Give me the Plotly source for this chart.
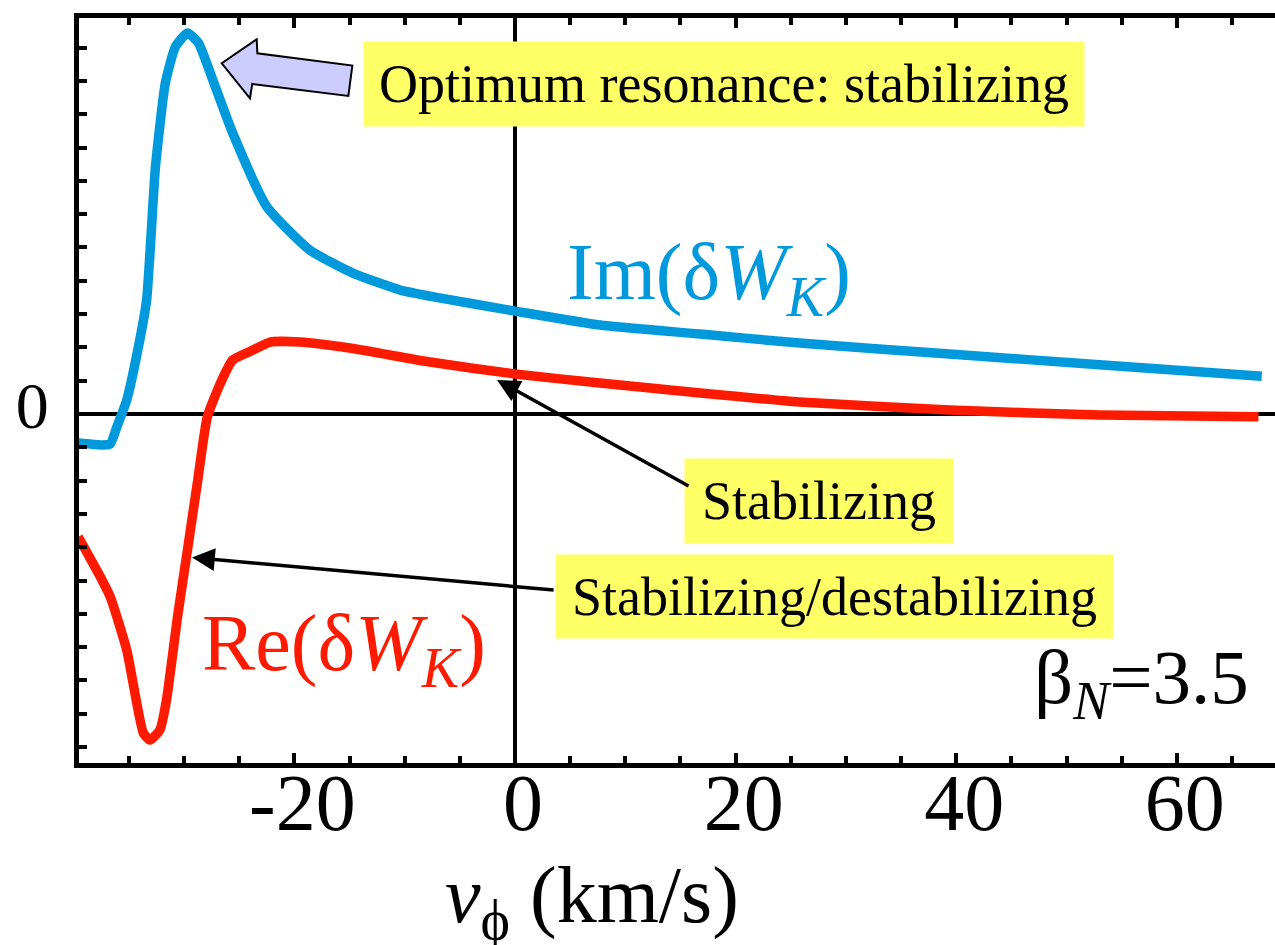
import plotly.graph_objects as go

# ---- data ----
im_x = [-39.6, -37.35, -36.7, -36.1, -35.2, -34.2, -33.4, -32.6, -31.7, -30.8, -29.7, -28.7,
        -27.4, -25.6, -22.5, -18.6, -14.7, -10.4, -7.25, 0.0, 7.7, 16.8, 25.8, 39.4, 53.0, 67.7]
im_y = [-0.87, -0.93, -0.90, -0.39, 0.42, 1.92, 3.42, 7.42, 9.94, 11.02, 11.44, 11.14,
        10.03, 8.44, 6.22, 4.92, 4.23, 3.72, 3.51, 3.09, 2.67, 2.40, 2.13, 1.80, 1.48, 1.13]

re_x = [-39.6, -37.6, -36.7, -35.2, -33.7, -33.1, -32.2, -31.6, -30.6, -29.7, -28.8, -27.9,
        -26.7, -25.6, -23.75, -22.2, -19.5, -15.0, -7.7, 0.0, 7.7, 16.8, 25.8, 39.4, 53.0, 67.4]
re_y = [-3.69, -4.89, -5.49, -7.09, -9.58, -9.79, -9.49, -8.59, -6.10, -4.09, -2.07, -0.09,
        0.93, 1.62, 1.92, 2.16, 2.16, 1.98, 1.56, 1.20, 0.93, 0.63, 0.36, 0.12, -0.03, -0.08]

x_tick_vals = [-20, 0, 20, 40, 60]
x_tick_text = ["-20", "0", "20", "40", "60"]
y_tick_vals = list(range(-10, 12))
y_tick_text = ["0" if v == 0 else "" for v in y_tick_vals]

BLUE = "rgb(0,153,219)"
RED = "rgb(255,26,0)"
SERIF = "Liberation Serif, Times New Roman, serif"

fig = go.Figure()
fig.add_trace(go.Scatter(x=im_x, y=im_y, mode="lines",
                         line=dict(color=BLUE, width=9.5, shape="spline", smoothing=0.5),
                         hoverinfo="skip"))
fig.add_trace(go.Scatter(x=re_x, y=re_y, mode="lines",
                         line=dict(color=RED, width=9.5, shape="spline", smoothing=0.5),
                         hoverinfo="skip"))

fig.update_layout(
    width=1275, height=945,
    margin=dict(l=79, r=0, t=18, b=182),
    paper_bgcolor="white", plot_bgcolor="white",
    showlegend=False,
    font=dict(family=SERIF, color="black"),
)

fig.update_xaxes(
    range=[-39.53, 68.90],
    automargin=False,
    showgrid=False,
    zeroline=True, zerolinecolor="black", zerolinewidth=4,
    showline=True, linecolor="black", linewidth=5, mirror="ticks",
    ticks="inside", ticklen=10, tickwidth=4, tickcolor="black",
    tickvals=x_tick_vals, ticktext=x_tick_text,
    tickfont=dict(family=SERIF, size=80, color="black"),
    ticklabelshift=8,
    ticklabelstandoff=-34,
    minor=dict(dtick=5, tick0=0, ticks="inside", ticklen=7, tickwidth=4, tickcolor="black", showgrid=False),
)
fig.update_yaxes(
    range=[-10.48, 11.89],
    automargin=False,
    showgrid=False,
    zeroline=True, zerolinecolor="black", zerolinewidth=4,
    showline=True, linecolor="black", linewidth=5, mirror=False,
    ticks="inside", ticklen=8, tickwidth=4, tickcolor="black",
    tickvals=y_tick_vals, ticktext=y_tick_text,
    tickfont=dict(family=SERIF, size=66, color="black"),
    ticklabelstandoff=12,
    ticklabelshift=-9,
)

# axis title
fig.add_annotation(text="<i>v</i><sub>ϕ</sub> (km/s)", xref="paper", yref="paper",
                   x=0.4287, y=-0.185, xanchor="center", yanchor="middle", showarrow=False,
                   font=dict(family=SERIF, size=80, color="black"))

# curve labels
fig.add_annotation(text="Im(δ<i>W</i><sub><i>K</i></sub>)", x=4.5, y=4.07, xref="x", yref="y",
                   xanchor="left", yanchor="middle", showarrow=False,
                   font=dict(family=SERIF, size=80, color=BLUE))
fig.add_annotation(text="Re(δ<i>W</i><sub><i>K</i></sub>)", x=-28.6, y=-7.06, xref="x", yref="y",
                   xanchor="left", yanchor="middle", showarrow=False,
                   font=dict(family=SERIF, size=80, color=RED))
fig.add_annotation(text="β<sub><i>N</i></sub>=3.5", x=46.9, y=-8.06, xref="x", yref="y",
                   xanchor="left", yanchor="middle", showarrow=False,
                   font=dict(family=SERIF, size=77, color="black"))

# yellow boxes
YEL = "#ffff66"
fig.add_annotation(text="Optimum resonance: stabilizing", x=18.95, y=9.91, xref="x", yref="y",
                   showarrow=False, bgcolor=YEL, width=720, height=84, borderpad=0,
                   font=dict(family=SERIF, size=54, color="black"))
fig.add_annotation(text="Stabilizing", x=27.56, y=-2.61, xref="x", yref="y",
                   showarrow=False, bgcolor=YEL, width=268, height=84, borderpad=0,
                   font=dict(family=SERIF, size=54, color="black"))
fig.add_annotation(text="Stabilizing/destabilizing", x=28.97, y=-5.48, xref="x", yref="y",
                   showarrow=False, bgcolor=YEL, width=557, height=83, borderpad=0,
                   font=dict(family=SERIF, size=54, color="black"))

# thin black arrows
fig.add_annotation(text="", x=-1.63, y=1.02, ax=15.87, ay=-2.19, xref="x", yref="y",
                   axref="x", ayref="y", showarrow=True, arrowhead=2, arrowsize=1.3,
                   arrowwidth=3.5, arrowcolor="black")
fig.add_annotation(text="", x=-29.28, y=-4.31, ax=3.63, ay=-5.29, xref="x", yref="y",
                   axref="x", ayref="y", showarrow=True, arrowhead=2, arrowsize=1.3,
                   arrowwidth=3.5, arrowcolor="black")

# big lavender block arrow
fig.add_shape(type="path", xref="x", yref="y",
              path="M -26.59 10.53 L -23.42 11.25 L -23.36 10.83 L -14.75 10.46 "
                   "L -15.11 9.55 L -23.82 9.91 L -24.03 9.48 Z",
              fillcolor="#ccccff", line=dict(color="black", width=2))

fig.write_html(
    "out.html",
    config={"displayModeBar": False},
    post_script="document.body.style.margin='0';document.body.style.padding='0';"
                "document.body.style.overflow='hidden';",
)
